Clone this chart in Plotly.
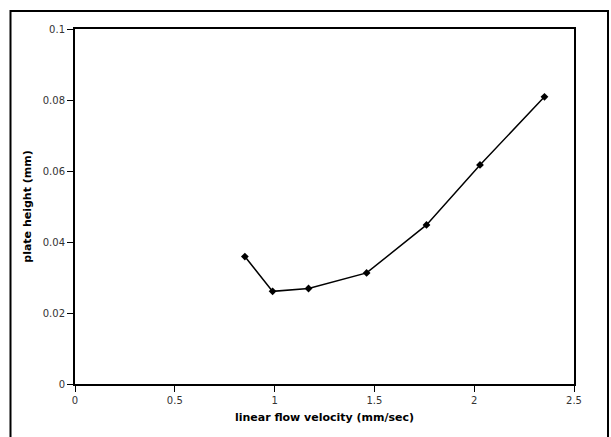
import plotly.graph_objects as go

velocity = [0.851, 0.990, 1.170, 1.461, 1.761, 2.029, 2.352]
plate_height = [0.0359, 0.0261, 0.0269, 0.0313, 0.0448, 0.0617, 0.0809]
x_ticks = [0, 0.5, 1, 1.5, 2, 2.5]
x_tick_text = ["0", "0.5", "1", "1.5", "2", "2.5"]
y_ticks = [0, 0.02, 0.04, 0.06, 0.08, 0.1]
y_tick_text = ["0", "0.02", "0.04", "0.06", "0.08", "0.1"]

W, H = 611, 437
L, R, T, B = 75, 574, 29, 384  # plot area in pixels

fig = go.Figure()
fig.add_trace(go.Scatter(
    x=velocity, y=plate_height, mode="lines+markers",
    line=dict(color="black", width=1.5),
    marker=dict(symbol="diamond", size=6, color="black"),
    showlegend=False,
))

font_family = "DejaVu Sans"
fig.update_layout(
    width=W, height=H,
    margin=dict(l=L, r=W - R, t=T, b=H - B),
    paper_bgcolor="white", plot_bgcolor="white",
    font=dict(family=font_family, color="black", size=10),
    xaxis=dict(
        range=[0, 2.5], tickvals=x_ticks, ticktext=x_tick_text,
        showgrid=False, zeroline=False,
        showline=True, linecolor="black", linewidth=2, mirror=True,
        ticks="outside", ticklen=6, tickwidth=1, tickcolor="black",
        tickfont=dict(size=10, color="#333333"),
        title=dict(text="<b>linear flow velocity (mm/sec)</b>", font=dict(size=11), standoff=8),
    ),
    yaxis=dict(
        range=[0, 0.1], tickvals=y_ticks, ticktext=y_tick_text,
        showgrid=False, zeroline=False,
        showline=True, linecolor="black", linewidth=2, mirror=True,
        ticks="outside", ticklen=6, tickwidth=1, tickcolor="black",
        tickfont=dict(size=10, color="#333333"),
        title=dict(text="<b>plate height (mm)</b>", font=dict(size=11), standoff=9),
    ),
)

# outer chart-area border (bottom edge lies below the image)
pw, ph = R - L, B - T
fig.add_shape(
    type="rect", xref="paper", yref="paper",
    x0=(10.5 - L) / pw, x1=(608 - L) / pw,
    y0=(B - 447) / ph, y1=(B - 11) / ph,
    line=dict(color="black", width=2), fillcolor="rgba(0,0,0,0)", layer="below",
)

fig.write_html("out.html")
